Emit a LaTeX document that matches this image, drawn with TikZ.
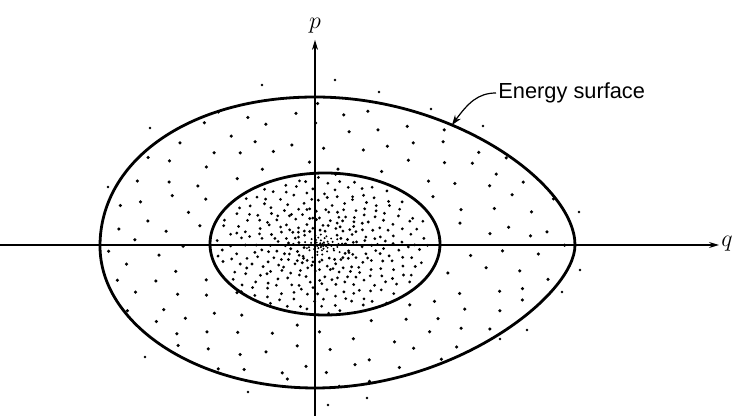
\documentclass[tikz,border=0pt]{standalone}
\usepackage{fontspec}
\newfontfamily\labelfont{Liberation Sans}
\usetikzlibrary{arrows.meta}

\def\eggpath{(100,246) .. controls (100,160) and (190,97) .. (315,97)
  .. controls (455,97) and (575,185) .. (575,245)
  .. controls (575,295) and (455,388) .. (315,388)
  .. controls (196,388) and (100,324) .. cycle}

\begin{document}
\begin{tikzpicture}[x=0.5pt, y=-0.5pt,
  axis/.style={line width=0.6pt, -{Stealth[length=5pt, width=3pt]}},
  surface/.style={line width=1.4pt, line join=round},
  dot/.style={fill=black},
  lbl/.style={font=\labelfont\fontsize{10.9}{12}\selectfont, inner sep=1pt},
  axlbl/.style={inner sep=1pt, font=\large},
  pointer/.style={line width=0.6pt, -{Stealth[length=5pt, width=3.5pt]}},
]
\useasboundingbox (0,0) rectangle (735,416);

% Axes
\node[axlbl, anchor=west] (q) at (719,244) {$q$};
\node[axlbl] (p) at (315,26) {$p$};
\coordinate (qstart) at (0,245);
\coordinate (pstart) at (315,416);
\draw[axis] (qstart) -- (q.west |- qstart);
\draw[axis] (pstart) -- ([yshift=-2pt]p.south);

% Phase points, inner region
\pgfmathsetseed{12}
\foreach \n in {1,...,380}{
  \pgfmathsetmacro{\rr}{69*(\n/380)^0.833}
  \pgfmathsetmacro{\ff}{\n*0.381966-floor(\n*0.381966)}
  \pgfmathsetmacro{\aa}{360*\ff}
  \pgfmathsetmacro{\jj}{\n>30 ? 2.5 : 0.5}
  \pgfmathsetmacro{\dr}{\n>50 ? 1.55 : 1.1}
  \fill[dot] ({322+1.56*\rr*cos(\aa)+\jj*rand},{245+\rr*sin(\aa)+\jj*rand}) circle (\dr);
}
% Phase points, outer region
\begin{scope}
  \clip \eggpath;
  \foreach \n in {1,...,200}{
    \pgfmathsetmacro{\rr}{71*sqrt(1.17+\n/200*(2.35*2.35-1.17))}
    \pgfmathsetmacro{\ff}{\n*0.381966-floor(\n*0.381966)}
    \pgfmathsetmacro{\aa}{360*\ff}
    \fill[dot] ({327+1.62*\rr*cos(\aa)+5*rand},{244+\rr*sin(\aa)+5*rand}) circle (1.75);
  }
\end{scope}
% Phase points, outside
\foreach \x/\y in {262/85, 335/80, 379/92, 431/109, 483/126, 579/212, 580/270,
  562/292, 527/330, 500/339, 367/398, 328/405, 248/392, 145/357, 150/128, 108/187}{
  \fill[dot] (\x,\y) circle (1.4);
}

% Energy surfaces
\draw[surface] \eggpath;
\draw[surface] (325,244) ellipse [x radius=115, y radius=71];

% Label
\node[lbl, anchor=west] (es) at (496,93) {Energy surface};
\coordinate (hit) at (452,125);
\draw[pointer] (es.west) .. controls (478,93) and (468,103) .. (hit);
\end{tikzpicture}
\end{document}
